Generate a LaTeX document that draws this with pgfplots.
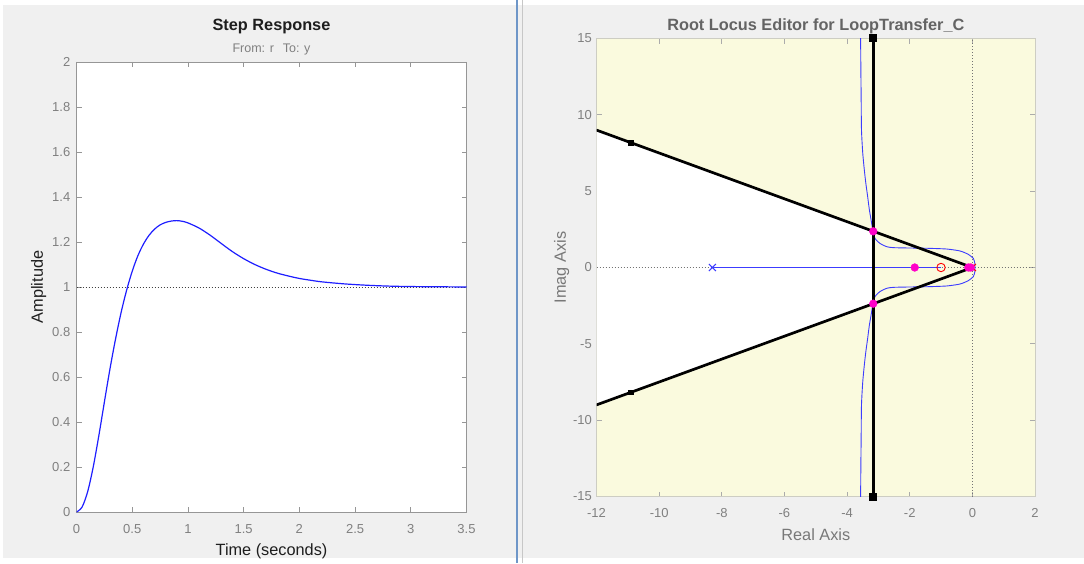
\documentclass[border=0pt]{standalone}
\usepackage{pgfplots}
\pgfplotsset{compat=1.18}
\usepackage{fontspec}
\setmainfont{Liberation Sans}
\definecolor{bggray}{RGB}{240,240,240}
\definecolor{ticklab}{RGB}{128,128,128}
\definecolor{axgray}{RGB}{150,150,150}
\definecolor{ylw}{RGB}{250,250,222}
\definecolor{rlframe}{RGB}{205,205,195}
\definecolor{locblue}{RGB}{60,60,255}
\definecolor{stepblue}{RGB}{30,30,255}
\definecolor{pinkm}{RGB}{255,0,200}
\definecolor{divblue}{RGB}{110,150,200}
\definecolor{titlegray}{RGB}{100,100,100}
\definecolor{labgray}{RGB}{120,120,120}
\definecolor{darktxt}{RGB}{30,30,30}
\newcommand{\tickfont}{\fontsize{13}{15}\selectfont}
\newcommand{\labfont}{\fontsize{16.3}{19}\selectfont}
\begin{document}
\begin{tikzpicture}
\useasboundingbox (0pt,0pt) rectangle (1084pt,563pt);
\fill[white] (0pt,0pt) rectangle (1084pt,563pt);
\fill[bggray] (3pt,5pt) rectangle (1084pt,558pt);
\fill[divblue] (516pt,0pt) rectangle (518pt,563pt);
\fill[black!22] (521.5pt,0pt) rectangle (523pt,563pt);

% ---------------- Step response ----------------
\begin{axis}[
  at={(76.5pt,51pt)}, anchor=south west, scale only axis,
  width=390pt, height=450pt,
  xmin=0, xmax=3.5, ymin=0, ymax=2,
  axis background/.style={fill=white},
  axis line style={axgray, line width=0.8pt},
  xtick={0,0.5,1,1.5,2,2.5,3,3.5},
  xticklabels={0,0.5,1,1.5,2,2.5,3,3.5},
  ytick={0,0.2,0.4,0.6,0.8,1,1.2,1.4,1.6,1.8,2},
  yticklabels={0,0.2,0.4,0.6,0.8,1,1.2,1.4,1.6,1.8,2},
  tick align=inside, major tick length=5pt,
  tick style={axgray, line width=0.8pt},
  xticklabel style={font=\tickfont, text=ticklab, anchor=base, inner sep=0pt, yshift=-21pt},
  yticklabel style={font=\tickfont, text=ticklab, anchor=east, inner sep=0pt, xshift=-6pt},
]
\addplot[black!75, line width=0.8pt, dash pattern=on 0.8pt off 2.2pt] coordinates {(0,1) (3.5,1)};
\addplot[stepblue, line width=1.2pt, smooth] coordinates {
(0,0) (0.05,0.022) (0.1,0.09) (0.15,0.2) (0.2,0.338) (0.25,0.488) (0.3,0.635)
(0.35,0.768) (0.4,0.886) (0.45,0.986) (0.5,1.07) (0.55,1.138) (0.6,1.19)
(0.65,1.229) (0.7,1.257) (0.75,1.276) (0.8,1.287) (0.85,1.293) (0.9,1.295)
(0.95,1.292) (1.0,1.285) (1.1,1.262) (1.2,1.23) (1.3,1.193)
(1.4,1.157) (1.5,1.126) (1.6,1.1) (1.7,1.079) (1.8,1.062) (1.9,1.049)
(2.0,1.038) (2.1,1.03) (2.2,1.023) (2.4,1.014) (2.6,1.008) (2.8,1.004)
(3.0,1.002) (3.25,1.001) (3.5,1.0)};
\end{axis}

% ---------------- Root locus ----------------
\begin{axis}[
  at={(596.5pt,66.5pt)}, anchor=south west, scale only axis,
  width=438.5pt, height=458pt,
  xmin=-12, xmax=2, ymin=-15, ymax=15,
  axis background/.style={fill=ylw},
  axis line style={rlframe, line width=0.8pt},
  xtick={-12,-10,-8,-6,-4,-2,0,2},
  xticklabels={-12,-10,-8,-6,-4,-2,0,2},
  ytick={-15,-10,-5,0,5,10,15},
  yticklabels={-15,-10,-5,0,5,10,15},
  tick align=inside, major tick length=5pt,
  tick style={axgray!80, line width=0.8pt},
  xticklabel style={font=\tickfont, text=ticklab, anchor=base, inner sep=0pt, yshift=-21pt},
  yticklabel style={font=\tickfont, text=ticklab, anchor=east, inner sep=0pt, xshift=-4.5pt},
  clip mode=individual,
]
% white feasible wedge
\addplot[fill=white, draw=none] coordinates {(-12,9) (-3.165,2.374) (-3.165,-2.374) (-12,-9)} -- cycle;
% zero lines
\addplot[black!55, line width=0.8pt, dash pattern=on 0.8pt off 2.2pt] coordinates {(0,-15) (0,15)};
\addplot[black!55, line width=0.8pt, dash pattern=on 0.8pt off 2.2pt] coordinates {(-12,0) (2,0)};
% locus branches
\addplot[locblue, line width=0.9pt] coordinates {(-8.3,0) (-1.0,0)};
\addplot[locblue, line width=0.9pt, smooth, tension=0.4] coordinates {
(-3.57,15.5) (-3.56,13) (-3.55,11) (-3.54,9) (-3.5,7.5) (-3.45,6.4) (-3.4,5.5)
(-3.34,4.6) (-3.29,3.8) (-3.24,3.2) (-3.2,2.7) (-3.16,2.31) (-3.11,1.91)
(-2.95,1.58) (-2.73,1.36) (-2.52,1.30) (-2.1,1.28) (-1.46,1.26) (-0.82,1.21)
(-0.39,1.08) (-0.13,0.86) (0.03,0.6) (0.08,0.27) (0.085,0)
(0.08,-0.27) (0.03,-0.6) (-0.13,-0.86) (-0.39,-1.08) (-0.82,-1.21) (-1.46,-1.26)
(-2.1,-1.28) (-2.52,-1.30) (-2.73,-1.36) (-2.95,-1.58) (-3.11,-1.91) (-3.16,-2.31)
(-3.2,-2.7) (-3.24,-3.2) (-3.29,-3.8) (-3.34,-4.6) (-3.4,-5.5) (-3.45,-6.4)
(-3.5,-7.5) (-3.54,-9) (-3.55,-11) (-3.56,-13) (-3.57,-15.5)};
% design constraints
\addplot[black, line width=2.7pt] coordinates {(-12,9) (0,0)};
\addplot[black, line width=2.7pt] coordinates {(-12,-9) (0,0)};
\addplot[black, line width=3pt, mark=square*, mark size=2.5pt] coordinates {(-3.165,-15) (-3.165,15)};
\addplot[only marks, black, mark=square*, mark size=2.3pt] coordinates {(-10.9,8.175) (-10.9,-8.175)};
% open-loop poles and zeros
\addplot[only marks, locblue, mark=x, mark size=5pt, line width=1pt, mark options={solid}] coordinates {(-8.3,0)};
\addplot[only marks, red, mark=x, mark size=5pt, line width=1pt] coordinates {(0,0)};
\addplot[only marks, red, mark=o, mark size=4.2pt, line width=0.9pt] coordinates {(-1.0,0)};
% closed-loop poles
\addplot[only marks, pinkm, mark=*, mark size=3.9pt] coordinates {(-3.165,2.37) (-3.165,-2.37) (-1.84,0) (-0.13,0) (-0.05,0)};
\end{axis}

% ---------------- Texts ----------------
\node[font=\labfont\bfseries, text=darktxt, anchor=base] at (271.5pt,532.2pt) {Step Response};
\node[font=\fontsize{12.5}{15}\selectfont, text=ticklab, anchor=base] at (271.5pt,510.5pt) {From: r\hspace{9pt}To: y};
\node[font=\labfont, text=darktxt, anchor=base] at (271.5pt,7.2pt) {Time (seconds)};
\node[font=\labfont, text=darktxt, anchor=base, rotate=90] at (42.8pt,276pt) {Amplitude};
\node[font=\labfont\bfseries, text=titlegray, anchor=base] at (815.8pt,532.2pt) {Root Locus Editor for LoopTransfer\_C};
\node[font=\labfont, text=labgray, anchor=base] at (815.8pt,22.2pt) {Real Axis};
\node[font=\labfont, text=labgray, anchor=base, rotate=90] at (565.8pt,295.5pt) {Imag Axis};
\end{tikzpicture}
\end{document}
